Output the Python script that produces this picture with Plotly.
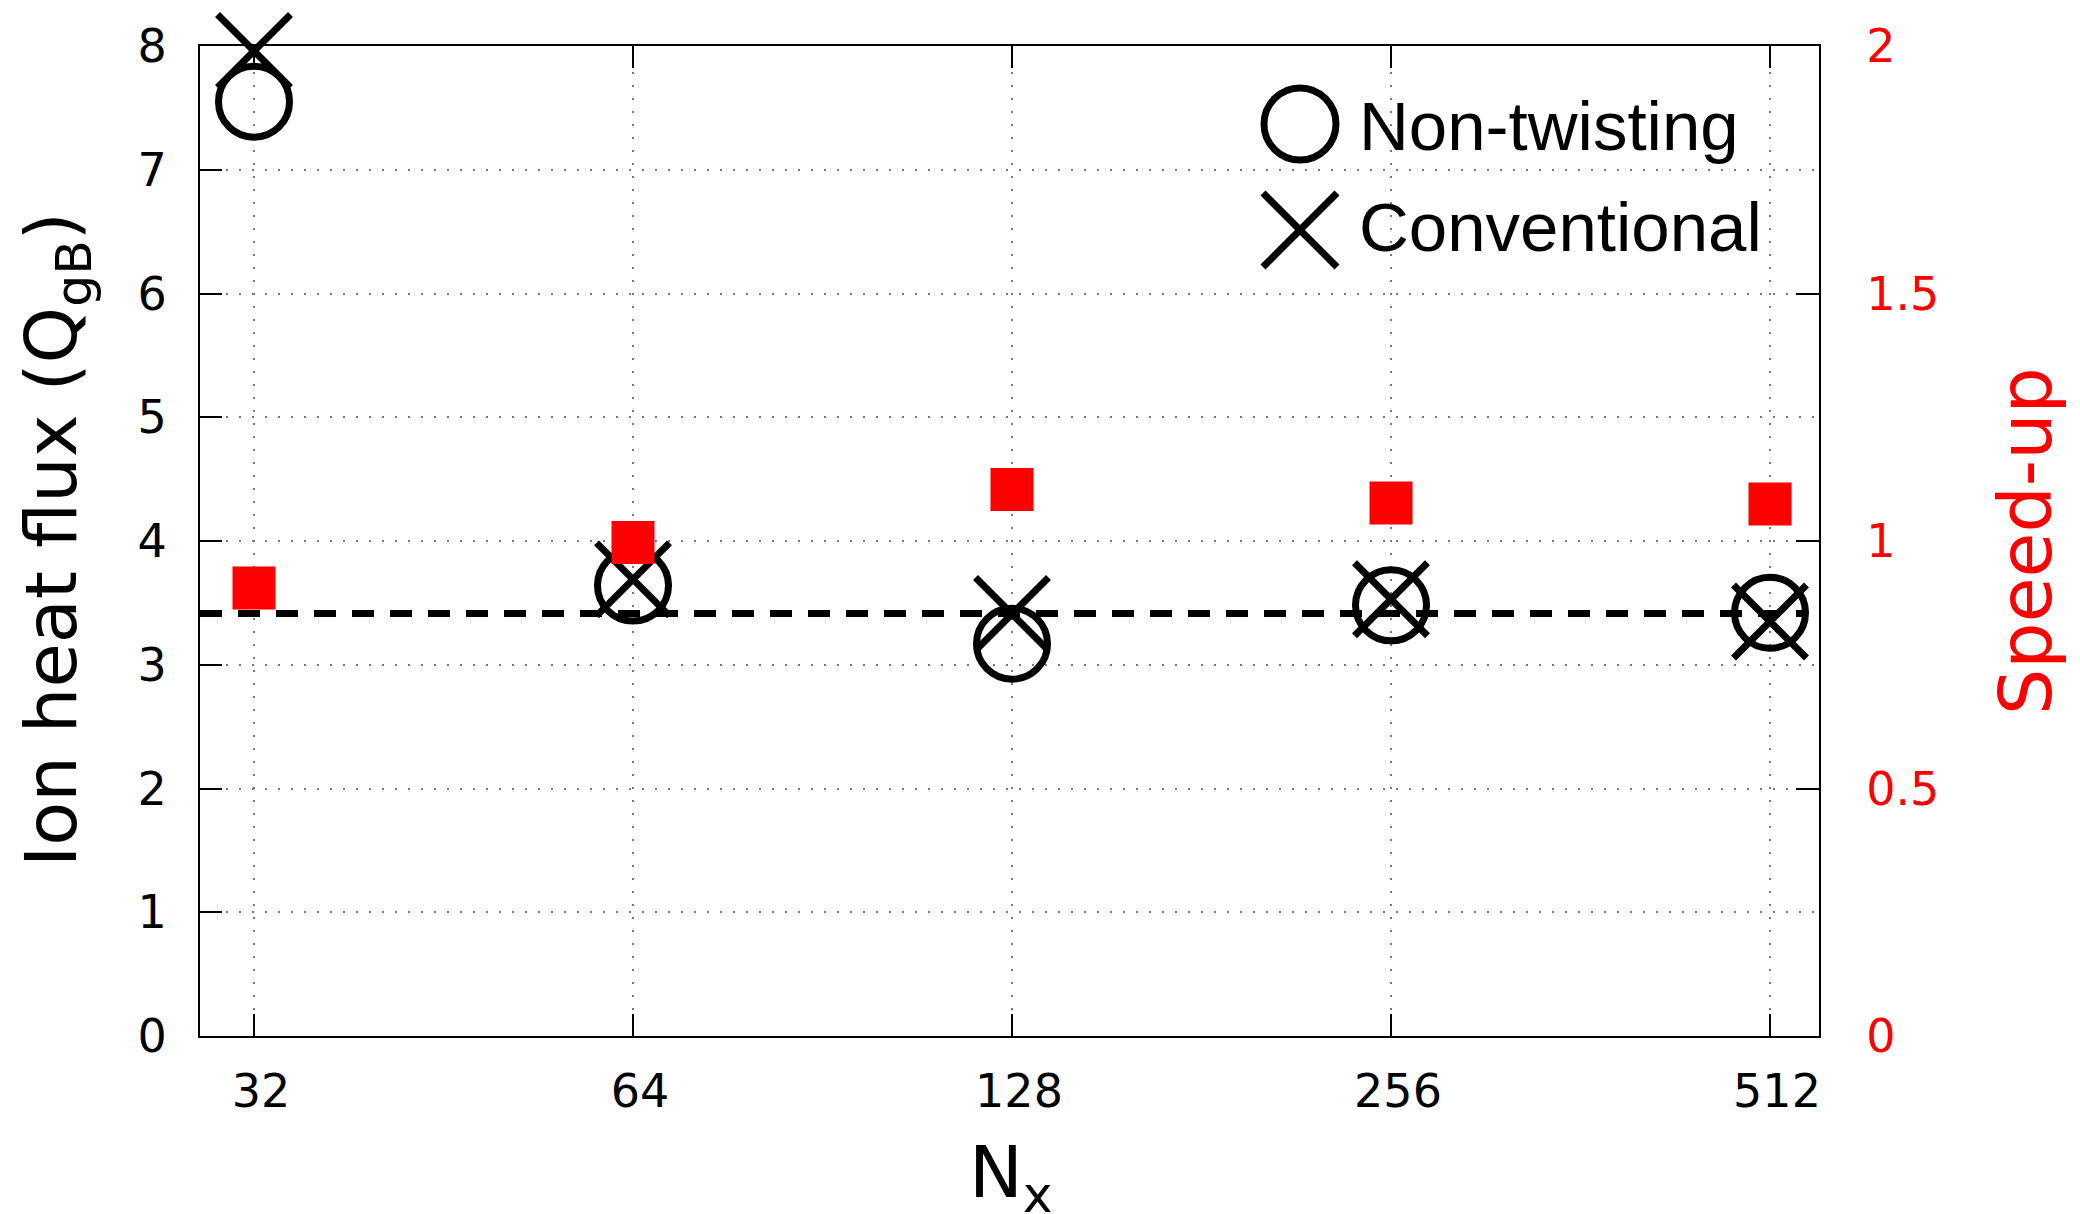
import plotly.graph_objects as go
import math

# ---------------- data ----------------
nx_values = [32, 64, 128, 256, 512]
tick_labels = ["32", "64", "128", "256", "512"]
flux_nontwisting = [7.55, 3.64, 3.17, 3.48, 3.42]
flux_conventional = [7.96, 3.69, 3.41, 3.53, 3.35]
speedup = [0.905, 0.997, 1.104, 1.077, 1.075]
reference_flux = 3.415
left_ticks = [0, 1, 2, 3, 4, 5, 6, 7, 8]
right_ticks = [0, 0.5, 1, 1.5, 2]
right_tick_labels = ["0", "0.5", "1", "1.5", "2"]

# ---------------- layout geometry ----------------
W, H = 2080, 1214
L, R, T, B = 200, 1819, 46, 1036
pw, ph = R - L, B - T


def px_x(px):
    return (px - L) / pw


def px_y(py):
    return (B - py) / ph


TICK_FONT = dict(family="DejaVu Sans", size=46, color="black")
GRID = dict(showgrid=True, gridcolor="#777777", gridwidth=1.5, griddash="2px,11px")

fig = go.Figure()

fig.add_trace(go.Scatter(
    x=nx_values, y=flux_nontwisting, mode="markers", name="Non-twisting",
    marker=dict(symbol="circle-open", size=71, color="black", line=dict(width=7, color="black")),
    cliponaxis=False, showlegend=False,
))
fig.add_trace(go.Scatter(
    x=nx_values, y=flux_conventional, mode="markers", name="Conventional",
    marker=dict(symbol="x-thin-open", size=73, color="black", line=dict(width=7, color="black")),
    cliponaxis=False, showlegend=False,
))
fig.add_trace(go.Scatter(
    x=nx_values, y=speedup, mode="markers", name="Speed-up", yaxis="y2",
    marker=dict(symbol="square", size=43, color="#ff0000", line=dict(width=0)),
    cliponaxis=False, showlegend=False,
))

xr0 = math.log10(nx_values[0]) - (254 - L) / 379 * math.log10(2)
xr1 = math.log10(nx_values[-1]) + (R - 1770) / 379 * math.log10(2)

fig.update_layout(
    width=W, height=H,
    margin=dict(l=L, r=W - R, t=T, b=H - B, pad=0),
    paper_bgcolor="white", plot_bgcolor="white",
    showlegend=False,
    xaxis=dict(
        type="log", range=[xr0, xr1],
        tickmode="array", tickvals=nx_values, ticktext=tick_labels,
        ticks="inside", ticklen=22, tickwidth=1.5, tickcolor="black",
        showline=True, linecolor="black", linewidth=2, mirror="ticks",
        tickfont=TICK_FONT, ticklabelshift=7, ticklabelstandoff=14,
        zeroline=False, **GRID,
    ),
    yaxis=dict(
        range=[0, 8], tickmode="array", tickvals=left_ticks,
        ticks="inside", ticklen=22, tickwidth=1.5, tickcolor="black",
        showline=True, linecolor="black", linewidth=2, mirror=False,
        tickfont=TICK_FONT, ticklabelstandoff=22,
        zeroline=False, **GRID,
    ),
    yaxis2=dict(
        range=[0, 2], overlaying="y", side="right",
        tickmode="array", tickvals=right_ticks, ticktext=right_tick_labels,
        ticks="inside", ticklen=23, tickwidth=1.5, tickcolor="black",
        showline=True, linecolor="black", linewidth=2,
        tickfont=dict(family="DejaVu Sans", size=46, color="#ff0000"),
        ticklabelstandoff=36,
        showgrid=False, zeroline=False,
    ),
)

# reference dashed line
fig.add_shape(type="line", xref="paper", yref="y", x0=0, x1=0.99,
              y0=reference_flux, y1=reference_flux, layer="below",
              line=dict(color="black", width=7, dash="22px,16px"))

# axis titles
TITLE_FONT = dict(family="DejaVu Sans", size=72, color="black")
fig.add_annotation(text="Ion heat flux (Q<sub>gB</sub>)", xref="paper", yref="paper",
                   x=px_x(56), y=px_y(540), xanchor="center", yanchor="middle",
                   textangle=-90, showarrow=False, font=TITLE_FONT)
fig.add_annotation(text="Speed-up", xref="paper", yref="paper",
                   x=px_x(2025), y=px_y(541), xanchor="center", yanchor="middle",
                   textangle=-90, showarrow=False,
                   font=dict(family="DejaVu Sans", size=73, color="#ff0000"))
fig.add_annotation(text="N<sub>x</sub>", xref="paper", yref="paper",
                   x=px_x(1011), y=px_y(1177), xanchor="center", yanchor="middle",
                   showarrow=False, font=TITLE_FONT)

# manual legend (large symbols)
cx, r = 1300, 36
fig.add_shape(type="circle", xref="paper", yref="paper",
              x0=px_x(cx - r), x1=px_x(cx + r), y0=px_y(124 + r), y1=px_y(124 - r),
              line=dict(color="black", width=7))
cyx, h = 230, 37
for (xa, ya, xb, yb) in [(cx - h, cyx - h, cx + h, cyx + h), (cx - h, cyx + h, cx + h, cyx - h)]:
    fig.add_shape(type="line", xref="paper", yref="paper",
                  x0=px_x(xa), y0=px_y(ya), x1=px_x(xb), y1=px_y(yb),
                  line=dict(color="black", width=7))
LEG_FONT = dict(family="Liberation Sans", size=69, color="black")
fig.add_annotation(text="Non-twisting", xref="paper", yref="paper",
                   x=px_x(1357), y=px_y(127), xanchor="left", yanchor="middle",
                   showarrow=False, font=LEG_FONT)
fig.add_annotation(text="Conventional", xref="paper", yref="paper",
                   x=px_x(1357), y=px_y(228), xanchor="left", yanchor="middle",
                   showarrow=False, font=LEG_FONT)

fig.write_html("out.html")
